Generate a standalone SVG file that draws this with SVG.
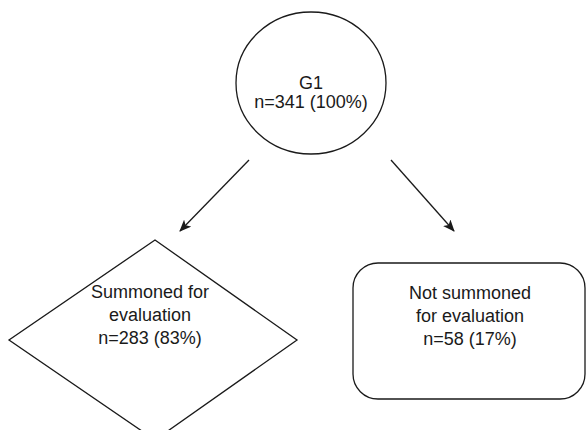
<svg xmlns="http://www.w3.org/2000/svg" width="588" height="430" viewBox="0 0 588 430">
<defs>
<style>
.shape{fill:#fff;stroke:#1a1a1a;stroke-width:1.3}
.lbl{font-family:"Liberation Sans",Arial,sans-serif;font-size:18px;fill:#1a1a1a;text-anchor:middle}
.conn{stroke:#1a1a1a;stroke-width:1.3;fill:none;marker-end:url(#ah)}
</style>
<marker id="ah" viewBox="0 0 12 10" refX="11" refY="5" markerWidth="12" markerHeight="10" markerUnits="userSpaceOnUse" orient="auto">
<path d="M0,0 L12,5 L0,10 L3,5 Z" fill="#1a1a1a"/>
</marker>
</defs>
<rect width="588" height="430" fill="#fff"/>
<g id="connectors">
<line class="conn" x1="249" y1="160" x2="180" y2="231"/>
<line class="conn" x1="391" y1="160" x2="454" y2="231"/>
</g>
<g id="g1">
<ellipse class="shape" cx="311" cy="83" rx="75" ry="71"/>
<text class="lbl" x="311" y="89">G1</text>
<text class="lbl" x="311" y="108">n=341 (100%)</text>
</g>
<g id="summoned">
<polygon class="shape" points="155,240 297,340 155,440 9,340"/>
<text class="lbl" x="150" y="298">Summoned for</text>
<text class="lbl" x="150" y="321">evaluation</text>
<text class="lbl" x="150" y="344">n=283 (83%)</text>
</g>
<g id="not-summoned">
<rect class="shape" x="353" y="263" width="232" height="136" rx="25" ry="25"/>
<text class="lbl" x="470" y="299">Not summoned</text>
<text class="lbl" x="470" y="322">for evaluation</text>
<text class="lbl" x="470" y="345">n=58 (17%)</text>
</g>
</svg>
